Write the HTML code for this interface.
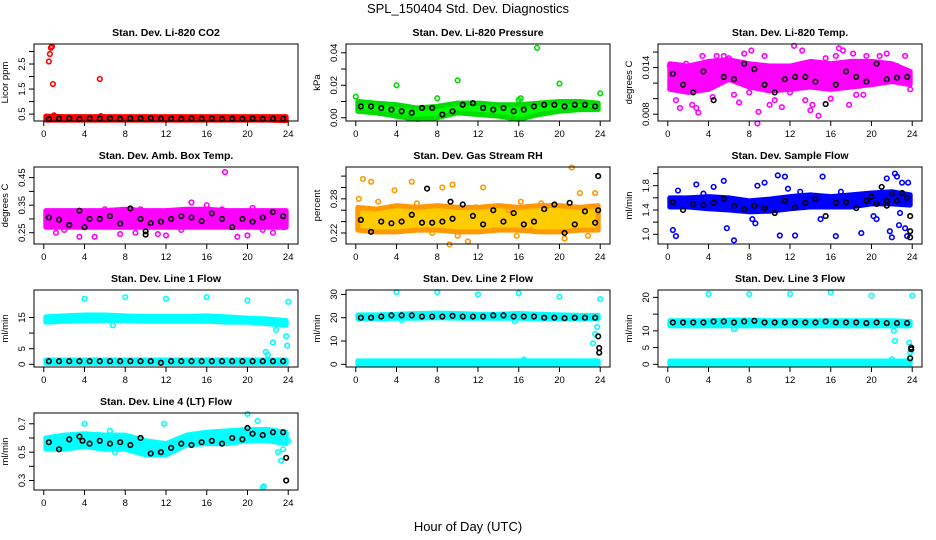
<!DOCTYPE html>
<html><head><meta charset="utf-8"><style>
body{margin:0;background:#fff}
svg{display:block;font-family:"Liberation Sans",sans-serif}
</style></head><body>
<svg id="c" width="936" height="540">
<text x="468" y="13" font-size="13" text-anchor="middle">SPL_150404  Std. Dev. Diagnostics</text>
<text x="468" y="531" font-size="13" text-anchor="middle">Hour of Day (UTC)</text>
</svg>
<script>
// ---- shared data ----
const xTicks=[0,4,8,12,16,20,24];
const bandX=[0.2,2,4,6,8,10,12,14,16,18,20,22,23.8];
const blkX=[0.5,1.5,2.5,3.5,4.5,5.5,6.5,7.5,8.5,9.5,10.5,11.5,12.5,13.5,14.5,15.5,16.5,17.5,18.5,19.5,20.5,21.5,22.5,23.5];

// CO2
const co2Lo=[0.26,0.26,0.26,0.26,0.26,0.26,0.26,0.26,0.26,0.26,0.26,0.26,0.24];
const co2Hi=[0.42,0.40,0.40,0.40,0.40,0.40,0.40,0.40,0.40,0.40,0.40,0.40,0.40];
const co2Blk=[0.3,0.32,0.33,0.3,0.33,0.32,0.33,0.31,0.33,0.33,0.34,0.32,0.32,0.31,0.33,0.32,0.33,0.31,0.32,0.31,0.33,0.31,0.32,0.32];
const co2OutX=[0.5,0.6,0.7,0.8,0.9,5.5,1.0,5.6];
const co2OutY=[2.6,2.9,3.15,3.2,1.7,1.9,0.45,0.42];
// Pressure
const prLo=[0.004,0.003,0.001,-0.001,0.0,0.003,0.002,0.001,-0.001,0.002,0.004,0.005,0.005];
const prHi=[0.010,0.009,0.008,0.006,0.007,0.009,0.009,0.008,0.008,0.009,0.010,0.010,0.009];
const prBlk=[0.007,0.007,0.006,0.005,0.004,0.003,0.006,0.006,0.002,0.004,0.008,0.009,0.006,0.005,0.006,0.004,0.005,0.007,0.008,0.008,0.007,0.008,0.008,0.007];
const prOutX=[0,4,10,16,16.2,17.8,20,24,8];
const prOutY=[0.013,0.02,0.023,0.011,0.012,0.043,0.021,0.015,0.012];
// Li-820 Temp
const tLo=[0.0112,0.0108,0.0112,0.0125,0.0115,0.0110,0.0112,0.0115,0.0112,0.0115,0.0118,0.0122,0.0118];
const tHi=[0.0145,0.0142,0.0148,0.0150,0.0145,0.0142,0.0142,0.0148,0.0145,0.0148,0.0148,0.0145,0.0135];
const tBlk=[0.0132,0.0118,0.0108,0.0135,0.0098,0.0128,0.0125,0.0145,0.0138,0.0118,0.0108,0.0125,0.0128,0.0128,0.0122,0.0093,0.0118,0.0135,0.0128,0.0122,0.0145,0.0125,0.0127,0.0128];
const tOutX=[0.2,0.3,0.8,1.2,1.8,2.4,2.8,3.0,3.4,4.4,4.8,5.5,6.0,6.2,7,7.5,8,8.2,8.8,8.9,9.5,10,10.5,11.2,12.4,13.2,13.5,14.0,14.2,14.8,15.5,16,16.5,17.2,17.8,18.2,18.5,19.5,20.8,21.5,22.5,23.3,23.8,16.8,6.5,19.2,12.0,11.8];
const tOutY=[0.0142,0.0115,0.0098,0.0088,0.0145,0.0092,0.0088,0.0082,0.0155,0.0102,0.0155,0.0155,0.0152,0.0145,0.0095,0.0158,0.0108,0.0162,0.0068,0.0083,0.0155,0.0092,0.0098,0.0089,0.0168,0.0162,0.0098,0.0085,0.0092,0.0078,0.0152,0.0100,0.0155,0.0162,0.0092,0.0158,0.0105,0.0155,0.0155,0.0158,0.0142,0.0155,0.0112,0.0165,0.0105,0.0105,0.0108,0.0120];
// Amb box temp
const aLo=[0.27,0.27,0.27,0.27,0.27,0.27,0.27,0.27,0.27,0.27,0.27,0.27,0.27];
const aHi=[0.33,0.33,0.33,0.33,0.335,0.33,0.33,0.335,0.335,0.33,0.33,0.33,0.33];
const aBlk=[0.305,0.297,0.278,0.33,0.3,0.3,0.31,0.283,0.338,0.3,0.285,0.29,0.3,0.31,0.305,0.292,0.32,0.3,0.27,0.3,0.29,0.305,0.325,0.31];
const aOutX=[0.5,1.2,2,3.5,5,7.5,9,11.2,12,13.5,14.5,15,16,17.5,17.8,19,20,20.5,21.5,22.5,23.5,6,9.5,4.3,10,10,4];
const aOutY=[0.285,0.25,0.26,0.235,0.235,0.245,0.25,0.245,0.24,0.26,0.36,0.28,0.35,0.335,0.47,0.235,0.24,0.34,0.26,0.25,0.27,0.335,0.335,0.325,0.243,0.255,0.27];
// Gas stream RH
const rLo=[0.225,0.222,0.222,0.225,0.225,0.222,0.222,0.225,0.225,0.222,0.222,0.225,0.225];
const rHi=[0.265,0.262,0.268,0.265,0.268,0.265,0.265,0.268,0.265,0.268,0.268,0.265,0.268];
const rBlk=[0.243,0.222,0.24,0.237,0.24,0.252,0.238,0.238,0.24,0.245,0.27,0.25,0.235,0.26,0.24,0.255,0.235,0.24,0.262,0.27,0.22,0.235,0.258,0.238];
const rOutX=[0.3,0.7,1.5,2.2,3.8,5.5,6,7.5,8.5,9.5,10,11,11.8,12.5,13.5,15,15.8,16.2,17.2,18.2,19.5,20.5,21.2,22,22.8,23.5,9.2,7,9.3,23.8,23.8,21];
const rOutY=[0.28,0.315,0.31,0.275,0.295,0.31,0.272,0.22,0.3,0.305,0.215,0.205,0.265,0.3,0.225,0.26,0.215,0.275,0.225,0.272,0.27,0.21,0.335,0.29,0.215,0.29,0.2,0.298,0.275,0.32,0.26,0.273];
const rOutBlack=[0,0,0,0,0,0,0,0,0,0,0,0,0,0,0,0,0,0,0,0,0,0,0,0,0,0,0,1,1,1,1,1];
// Sample flow
const sLo=[1.45,1.45,1.42,1.40,1.37,1.38,1.42,1.45,1.45,1.45,1.50,1.50,1.48];
const sHi=[1.60,1.60,1.62,1.60,1.55,1.58,1.62,1.65,1.62,1.65,1.68,1.70,1.65];
const sBlk=[1.53,1.40,1.5,1.48,1.52,1.58,1.47,1.41,1.47,1.43,1.35,1.55,1.44,1.52,1.58,1.30,1.52,1.53,1.43,1.55,1.5,1.47,1.55,1.6];
const sOutX=[0.5,0.8,1,2.8,3.5,4.5,5.5,5.8,6.5,8.3,8.6,8.8,9.5,10.8,11,11.5,11.8,12.5,13,15.2,15,16.5,17,19,20.2,20.5,21.5,21.8,22,22.3,22.5,22.8,23,23.3,23.5,22.7,23.6,21,21.5,22,23,23.8,23.8,23.8,20];
const sOutY=[1.07,0.97,1.72,1.82,1.67,1.78,1.88,1.1,0.9,1.25,1.18,1.8,1.85,1.97,0.98,1.95,1.75,0.98,1.7,1.95,1.25,0.97,1.7,1.02,1.3,1.25,1.92,1.05,0.95,2.0,1.95,1.35,1.85,1.1,0.97,1.15,1.85,1.78,1.55,1.67,1.68,1.3,1.05,0.95,1.62];
const sOutBlack=[0,0,0,0,0,0,0,0,0,0,0,0,0,0,0,0,0,0,0,0,0,0,0,0,0,0,0,0,0,0,0,0,0,0,0,0,0,1,1,1,1,1,1,1,1];
// Line 1
const l1Lo=[13.5,13.8,14,14,14,13.8,13.8,13.8,13.8,13.5,13.5,13,12.5];
const l1Hi=[15.2,15.5,15.8,15.8,15.5,15.3,15.3,15.3,15.5,15.2,14.8,14.5,14];
const l1Lo2=[0.3,0.3,0.3,0.3,0.3,0.3,0.3,0.3,0.3,0.3,0.3,0.3,0.3];
const l1Hi2=[1.4,1.4,1.4,1.4,1.4,1.4,1.4,1.4,1.4,1.4,1.4,1.4,1.4];
const l1Blk=[1,1,1,1,1,1,1,1,1,1,1,0.5,1,1,1,1,1,1,1,1,1,1,1,1];
const l1OutX=[4,8,12,16,20,24,22.8,22.5,21.8,22,23.8,23.9,6.8];
const l1OutY=[21,21.5,21,21.5,20.5,20,11,7,4,3,9,6,12.5];
// Line 2
const l2Lo=[19.5,19.5,19.8,19.8,20,19.8,19.8,19.8,19.8,19.5,19.5,19.5,19.5];
const l2Hi=[21.2,21.2,21.5,21.8,22,21.8,21.5,21.5,21.8,21.5,21.2,21,21];
const l2Lo2=[0,0,0,0,0,0,0,0,0,0,0,0,0];
const l2Hi2=[1.5,1.5,1.5,1.5,1.5,1.5,1.5,1.5,1.5,1.5,1.5,1.5,1.5];
const l2Blk=[20,20,20.5,21,21,21,20.5,20.5,20.5,20.8,20.5,20.5,20.5,21,21,20.5,20.5,20.5,20,20,19.8,20,20,20];
const l2OutX=[4,8,12,16,20,24,23.5,23.3,23.7,15.6,4.5,16.5,23.8,23.9,23.9];
const l2OutY=[31,31,30,30.5,29,28,13,9,16,18.5,19,2,12,7,5];
const l2OutBlack=[0,0,0,0,0,0,0,0,0,0,0,0,1,1,1];
// Line 3
const l3Lo=[11.5,11.5,11.5,11.5,11.5,11.5,11.5,11.5,11.5,11.5,11.5,11.5,11.5];
const l3Hi=[13,13,13,13.2,13.2,13,13,13,13,13,13,13,12.8];
const l3Lo2=[0,0,0,0,0,0,0,0,0,0,0,0,0];
const l3Hi2=[1,1,1,1,1,1,1,1,1,1,1,1,1];
const l3Blk=[12.5,12.5,12.5,12.5,12.8,12.8,12.5,12.8,13,12.5,12.5,12.5,12.5,12.5,12.5,12.8,12.5,12.5,12.5,12.3,12.5,12.3,12.3,12.3];
const l3OutX=[4,8,12,16,20,24,22.2,22.3,23.7,23.8,6.5,22,23.9,23.9,23.8];
const l3OutY=[21,21,21,21.5,20.5,20.5,10,7,6.5,3.5,10.5,1.5,5,4.5,1.8];
const l3OutBlack=[0,0,0,0,0,0,0,0,0,0,0,0,1,1,1];
// Line 4
const l4Lo=[0.52,0.52,0.54,0.52,0.52,0.48,0.48,0.55,0.56,0.56,0.58,0.58,0.56];
const l4Hi=[0.60,0.62,0.63,0.62,0.62,0.58,0.56,0.62,0.64,0.65,0.66,0.66,0.64];
const l4Blk=[0.57,0.52,0.59,0.61,0.56,0.58,0.56,0.57,0.55,0.60,0.49,0.50,0.53,0.56,0.55,0.57,0.58,0.56,0.60,0.59,0.63,0.62,0.64,0.64];
const l4OutX=[4,6.5,11.8,20,21,21.5,21.6,23,23.3,23.5,24,7,0.3,23.8,23.8,20,3.8];
const l4OutY=[0.70,0.65,0.70,0.77,0.72,0.25,0.26,0.5,0.44,0.52,0.58,0.50,0.58,0.46,0.30,0.67,0.58];
const l4OutBlack=[0,0,0,0,0,0,0,0,0,0,0,0,0,1,1,1,1];

const svg=document.getElementById('c');
const NS='http://www.w3.org/2000/svg';
function mk(tag,attrs,parent){const e=document.createElementNS(NS,tag);for(const k in attrs)e.setAttribute(k,attrs[k]);(parent||svg).appendChild(e);return e;}

function panel(o){
  const L=o.left,T=o.top,W=264,H=77;
  const g=mk('g',{});
  
  
  const sx=v=>L+(v+0.96)/25.92*W;
  const sy=v=>T+H-(v-o.ymin)/(o.ymax-o.ymin)*H;
  const t=mk('text',{x:L+W/2,y:T-8,'font-size':10.5,'font-weight':'bold','text-anchor':'middle'},g);
  t.textContent=o.title;
  
  
  const yl=mk('text',{x:0,y:0,'font-size':9.5,'text-anchor':'middle',transform:`translate(${L-26},${T+H/2}) rotate(-90)`},g);
  yl.textContent=o.ylab;
  
  
  o.bands.forEach(b=>{
    let pts=[];
    bandX.forEach((x,i)=>pts.push(sx(x)+','+sy(b[1][i])));
    for(let i=bandX.length-1;i>=0;i--)pts.push(sx(bandX[i])+','+sy(b[0][i]));
    const p=mk('polygon',{points:pts.join(' '),fill:o.fill||o.col,stroke:o.col,'stroke-width':5,'stroke-linejoin':'round'},g);
    
    
  });
  const dot=(x,y,c,nm)=>{
    const d=mk('circle',{cx:sx(x),cy:sy(y),r:2.3,fill:'none',stroke:c,'stroke-width':1.6},g);
    
    
  };
  o.ox.forEach((x,i)=>{ if(!(o.ob&&o.ob[i])) dot(x,o.oy[i],o.col,o.name+'-outlier'); });
  blkX.forEach((x,i)=>dot(x,o.blk[i],'#000',o.name+'-hourly-point'));
  o.ox.forEach((x,i)=>{ if(o.ob&&o.ob[i]) dot(x,o.oy[i],'#000',o.name+'-hourly-point'); });
  const r=mk('rect',{x:L,y:T,width:W,height:H,fill:'none',stroke:'#000','stroke-width':1},g);
  
  
  xTicks.forEach(v=>{
    mk('line',{x1:sx(v),x2:sx(v),y1:T+H,y2:T+H+5,stroke:'#000'},g);
    const tx=mk('text',{x:sx(v),y:T+H+16,'font-size':9.5,'text-anchor':'middle'},g);
    tx.textContent=v;
    
    
  });
  o.yt.forEach(v=>{
    mk('line',{x1:L,x2:L-5,y1:sy(v),y2:sy(v),stroke:'#000'},g);
  });
  o.ytl.forEach(v=>{
    const tx=mk('text',{x:0,y:0,'font-size':9.5,'text-anchor':'middle',transform:`translate(${L-9},${sy(parseFloat(v))}) rotate(-90)`},g);
    tx.textContent=v;
    
    
  });
}
const C=[34,346,658],R=[44,167,290,413];
panel({name:'co2',title:'Stan. Dev. Li-820 CO2',ylab:'Licor ppm',left:C[0],top:R[0],ymin:0.224,ymax:3.3,col:'#ff0000',bands:[[co2Lo,co2Hi]],blk:co2Blk,ox:co2OutX,oy:co2OutY,yt:[0.5,1,1.5,2,2.5,3],ytl:['0.5','1.5','2.5']});
panel({name:'pressure',title:'Stan. Dev. Li-820 Pressure',ylab:'kPa',left:C[1],top:R[0],ymin:-0.002,ymax:0.0454,col:'#00dd00',fill:'#00ff00',bands:[[prLo,prHi]],blk:prBlk,ox:prOutX,oy:prOutY,yt:[0,0.01,0.02,0.03,0.04],ytl:['0.00','0.02','0.04']});
panel({name:'li820-temp',title:'Stan. Dev. Li-820 Temp.',ylab:'degrees C',left:C[2],top:R[0],ymin:0.00712,ymax:0.01704,col:'#ff00ff',bands:[[tLo,tHi]],blk:tBlk,ox:tOutX,oy:tOutY,yt:[0.008,0.010,0.012,0.014,0.016],ytl:['0.008','0.014']});
panel({name:'amb-box-temp',title:'Stan. Dev. Amb. Box Temp.',ylab:'degrees C',left:C[0],top:R[1],ymin:0.209,ymax:0.4886,col:'#ff00ff',bands:[[aLo,aHi]],blk:aBlk,ox:aOutX,oy:aOutY,ob:aOutX.map((x,i)=>i>=24?1:0),yt:[0.25,0.3,0.35,0.4,0.45],ytl:['0.25','0.35','0.45']});
panel({name:'gas-rh',title:'Stan. Dev. Gas Stream RH',ylab:'percent',left:C[1],top:R[1],ymin:0.2006,ymax:0.336,col:'#ff9900',fill:'#ffcc00',bands:[[rLo,rHi]],blk:rBlk,ox:rOutX,oy:rOutY,ob:rOutBlack,yt:[0.22,0.24,0.26,0.28,0.30,0.32],ytl:['0.22','0.28']});
panel({name:'sample-flow',title:'Stan. Dev. Sample Flow',ylab:'ml/min',left:C[2],top:R[1],ymin:0.84,ymax:2.108,col:'#0000ff',bands:[[sLo,sHi]],blk:sBlk,ox:sOutX,oy:sOutY,ob:sOutBlack,yt:[1.0,1.2,1.4,1.6,1.8,2.0],ytl:['1.0','1.4','1.8']});
panel({name:'line1-flow',title:'Stan. Dev. Line 1 Flow',ylab:'ml/min',left:C[0],top:R[2],ymin:-0.86,ymax:23.8,col:'#00ffff',bands:[[l1Lo,l1Hi],[l1Lo2,l1Hi2]],blk:l1Blk,ox:l1OutX,oy:l1OutY,yt:[0,5,10,15],ytl:['0','5','15']});
panel({name:'line2-flow',title:'Stan. Dev. Line 2 Flow',ylab:'ml/min',left:C[1],top:R[2],ymin:-1.15,ymax:31.9,col:'#00ffff',bands:[[l2Lo,l2Hi],[l2Lo2,l2Hi2]],blk:l2Blk,ox:l2OutX,oy:l2OutY,ob:l2OutBlack,yt:[0,10,20,30],ytl:['0','10','20','30']});
panel({name:'line3-flow',title:'Stan. Dev. Line 3 Flow',ylab:'ml/min',left:C[2],top:R[2],ymin:-0.8,ymax:22.2,col:'#00ffff',bands:[[l3Lo,l3Hi],[l3Lo2,l3Hi2]],blk:l3Blk,ox:l3OutX,oy:l3OutY,ob:l3OutBlack,yt:[0,5,10,15,20],ytl:['0','5','10','20']});
panel({name:'line4-flow',title:'Stan. Dev. Line 4 (LT) Flow',ylab:'ml/min',left:C[0],top:R[3],ymin:0.233,ymax:0.776,col:'#00ffff',bands:[[l4Lo,l4Hi]],blk:l4Blk,ox:l4OutX,oy:l4OutY,ob:l4OutBlack,yt:[0.3,0.4,0.5,0.6,0.7],ytl:['0.3','0.5','0.7']});
</script>
</body></html>
